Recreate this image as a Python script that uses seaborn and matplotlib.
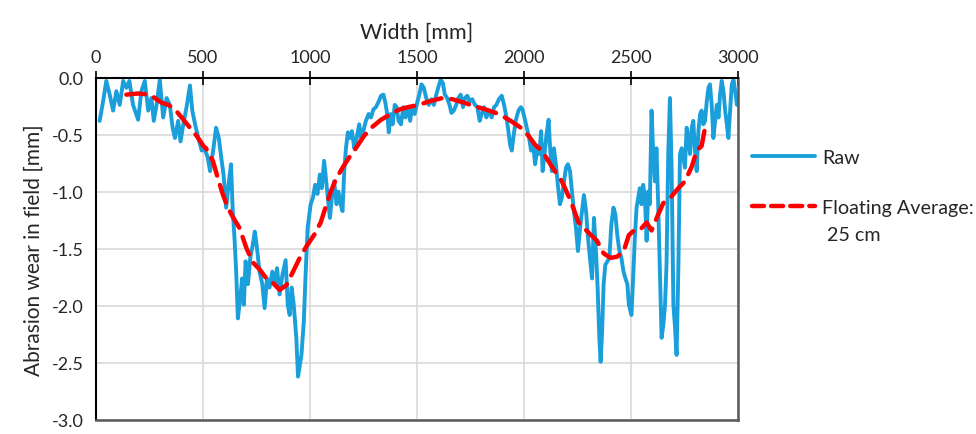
import numpy as np
import pandas as pd
import matplotlib
matplotlib.use("Agg")
import matplotlib.pyplot as plt
import seaborn as sns

# ---------------- data ----------------
raw_x = [17, 33, 48, 64, 80, 95, 111, 127, 142, 156, 173, 197, 212, 228, 244, 259, 270, 283, 298, 314,
         330, 345, 358, 369, 384, 395, 408, 423, 439, 450, 463, 478, 494,
         506, 522, 533, 549, 561, 574, 585, 596, 608, 621, 631, 639, 647, 655, 663, 674, 683, 691, 699,
         710, 721, 733, 742, 752, 764, 777, 788, 799, 811, 824, 836, 846, 858, 871, 886, 896, 905, 914,
         924, 936, 944, 960, 971, 980, 989, 999,
         1003, 1014, 1024, 1035, 1046, 1055, 1066, 1074, 1083, 1093, 1102, 1113, 1124, 1133, 1143, 1152,
         1160, 1168, 1177, 1186, 1196, 1207, 1218, 1230, 1239, 1249, 1261, 1274, 1285, 1296, 1308, 1321,
         1332, 1343, 1352, 1361, 1368, 1377, 1386, 1396, 1405, 1414, 1425, 1436, 1446, 1457, 1468, 1477, 1489,
         1502, 1511, 1521, 1532, 1543, 1555, 1568, 1579, 1590, 1602, 1611, 1621, 1630, 1641, 1652, 1661,
         1672, 1683, 1693, 1704, 1715, 1724, 1735, 1746, 1758, 1771, 1782, 1793, 1802, 1813, 1824, 1836,
         1849, 1860, 1871, 1883, 1896, 1907, 1918, 1927, 1935, 1943, 1950, 1961, 1974, 1985,
         1993, 2002, 2013, 2024, 2033, 2043, 2052, 2062, 2071, 2080, 2087, 2096, 2105, 2115, 2122, 2130,
         2140, 2149, 2158, 2168, 2177, 2187, 2196, 2205, 2215, 2224, 2233, 2243, 2252, 2262, 2271, 2280,
         2290, 2299, 2308, 2318, 2327, 2337, 2344, 2352, 2358, 2365, 2372, 2380, 2390, 2399, 2408, 2418,
         2427, 2437, 2446, 2455, 2465, 2474, 2483, 2490,
         2502, 2510, 2518, 2526, 2534, 2541, 2549, 2557, 2565, 2573, 2580, 2588, 2596, 2604, 2612, 2619,
         2627, 2635, 2643, 2651, 2659, 2666, 2674, 2682, 2690, 2698, 2705, 2713, 2721, 2729, 2737, 2744,
         2752, 2760, 2768, 2776, 2784, 2791, 2799, 2807, 2815, 2823, 2830, 2838, 2846, 2854, 2862, 2869,
         2877, 2885, 2893, 2901, 2909, 2916, 2924, 2932, 2940, 2948, 2955, 2963, 2971, 2979, 2987, 2995, 3000]
raw_y = [-0.38, -0.21, -0.03, -0.15, -0.29, -0.12, -0.24, -0.03, -0.09, -0.03, -0.24, -0.37, -0.12, -0.03,
         -0.29, -0.18, -0.38, -0.24, -0.02, -0.35,
         -0.18, -0.24, -0.44, -0.53, -0.38, -0.56, -0.41, -0.26, -0.07, -0.29, -0.41, -0.53, -0.64,
         -0.62, -0.70, -0.82, -0.62, -0.44, -0.53, -0.70, -0.85, -1.14, -0.91, -0.76, -1.17, -1.40, -1.70,
         -2.11, -1.93, -1.76, -1.99, -1.61,
         -1.81, -1.58, -1.46, -1.35, -1.49, -1.70, -1.81, -2.02, -1.76, -1.84, -1.70, -1.81, -1.67, -1.90,
         -1.73, -1.60, -1.99, -2.08, -1.84,
         -1.99, -2.28, -2.62, -2.43, -2.14, -1.70, -1.32, -1.17,
         -1.11, -1.05, -0.94, -1.02, -0.85, -0.97, -0.73, -0.88, -1.05, -1.23, -1.05, -0.91, -1.11, -1.00,
         -1.11, -1.17,
         -0.82, -0.62, -0.48, -0.53, -0.47, -0.62, -0.53, -0.41, -0.53, -0.47, -0.38, -0.32, -0.35, -0.28,
         -0.26, -0.21,
         -0.16, -0.15, -0.22, -0.32, -0.48, -0.32, -0.41, -0.24, -0.26, -0.38, -0.41, -0.26, -0.35, -0.26,
         -0.38, -0.26, -0.32,
         -0.21, -0.15, -0.06, -0.09, -0.18, -0.24, -0.19, -0.24, -0.15, -0.07, -0.02, -0.05, -0.15, -0.18,
         -0.24, -0.31,
         -0.29, -0.24, -0.18, -0.15, -0.26, -0.18, -0.16, -0.21, -0.19, -0.24, -0.26, -0.38, -0.32, -0.26,
         -0.35, -0.29,
         -0.35, -0.26, -0.24, -0.19, -0.16, -0.24, -0.35, -0.47, -0.59, -0.64, -0.53, -0.38, -0.29, -0.26,
         -0.28, -0.35, -0.44, -0.53, -0.64, -0.59, -0.76, -0.62, -0.67, -0.47, -0.82, -0.67, -0.50, -0.37,
         -0.62, -0.82,
         -0.62, -0.76, -0.94, -1.11, -1.05, -0.91, -0.79, -0.76, -0.82, -1.00, -1.17, -1.32, -1.52, -1.32,
         -1.17, -1.03,
         -1.17, -1.40, -1.58, -1.76, -1.23, -1.55, -1.84, -2.28, -2.49, -2.22, -1.81, -1.64, -1.61, -1.58,
         -1.29, -1.14,
         -1.20, -1.40, -1.52, -1.58, -1.70, -1.76, -1.81, -1.99,
         -2.08, -1.76, -1.40, -1.14, -1.05, -0.97, -1.11, -0.94, -1.05, -1.43, -1.00, -1.11, -0.29, -0.67,
         -0.91, -0.62,
         -1.11, -1.70, -2.28, -2.17, -1.99, -1.64, -0.67, -0.18, -0.82, -1.99, -2.17, -2.43, -1.70, -0.67,
         -0.62, -0.70,
         -0.79, -0.44, -0.53, -0.67, -0.44, -0.38, -0.64, -0.82, -0.47, -0.32, -0.29, -0.41, -0.38, -0.21,
         -0.09, -0.06,
         -0.24, -0.53, -0.38, -0.24, -0.35, -0.15, -0.03, -0.12, -0.29, -0.41, -0.53, -0.29, -0.06, -0.02,
         -0.12, -0.24, -0.18]

avg_x = [142, 197, 252, 275, 306, 338, 369, 400, 439, 470, 502,
         514, 546, 569, 592, 616, 639, 671, 702, 733, 764, 796, 827, 858, 889, 921, 952, 983,
         1019, 1050, 1074, 1097, 1121, 1152, 1183, 1214, 1253, 1293, 1332, 1378, 1418, 1457,
         1508, 1555, 1618, 1665, 1719, 1766, 1821, 1883, 1938, 1985,
         2021, 2052, 2083, 2130, 2177, 2216, 2255, 2302, 2341, 2372, 2404, 2435, 2466, 2490,
         2526, 2549, 2573, 2596, 2627, 2651, 2690, 2721, 2752, 2784, 2807, 2830, 2846]
avg_y = [-0.15, -0.14, -0.15, -0.18, -0.22, -0.24, -0.28, -0.35, -0.44, -0.51, -0.60,
         -0.62, -0.73, -0.88, -1.02, -1.14, -1.22, -1.32, -1.49, -1.62, -1.68, -1.76, -1.80, -1.86,
         -1.82, -1.70, -1.58, -1.48,
         -1.38, -1.27, -1.13, -1.00, -0.89, -0.79, -0.70, -0.62, -0.51, -0.43, -0.37, -0.32, -0.28, -0.26,
         -0.24, -0.21, -0.18, -0.19, -0.22, -0.25, -0.28, -0.32, -0.38, -0.44,
         -0.51, -0.59, -0.64, -0.78, -0.91, -1.07, -1.27, -1.36, -1.43, -1.54, -1.58, -1.57, -1.52, -1.38,
         -1.32, -1.32, -1.27, -1.34, -1.20, -1.10, -1.04, -0.97, -0.91, -0.78, -0.64, -0.60, -0.44]

x_ticks = [0, 500, 1000, 1500, 2000, 2500, 3000]
y_ticks = [0.0, -0.5, -1.0, -1.5, -2.0, -2.5, -3.0]
legend_labels = ["Raw", "Floating Average:"]
legend_cont = " 25 cm"

raw_df = pd.DataFrame({"Width": raw_x, "Wear": raw_y})
avg_df = pd.DataFrame({"Width": avg_x, "Wear": avg_y})

# ---------------- style ----------------
sns.set_theme(style="white")
plt.rcParams["font.family"] = ["Lato", "DejaVu Sans"]
plt.rcParams["axes.unicode_minus"] = False

fig = plt.figure(figsize=(9.76, 4.35), dpi=100)
ax = fig.add_axes([96 / 976, 1 - 421 / 435, (738 - 96) / 976, (421 - 78.5) / 435])

sns.lineplot(data=raw_df, x="Width", y="Wear", ax=ax, color="#1A9FDB", linewidth=2.8,
             label=legend_labels[0], sort=False, estimator=None)
sns.lineplot(data=avg_df, x="Width", y="Wear", ax=ax, color="#FF0000", linewidth=3.2,
             label=legend_labels[1], sort=False, estimator=None)
ax.lines[1].set_dashes((4.2, 2.2))
ax.lines[1].set_dash_capstyle("round")

ax.set_xlim(0, 3000)
ax.set_ylim(-3.0, 0.0)
ax.set_xticks(x_ticks)
ax.set_yticks(y_ticks)
ax.set_yticklabels([f"{v:.1f}" for v in y_ticks])
ax.xaxis.tick_top()
ax.xaxis.set_label_position("top")
ax.set_xlabel("Width [mm]", fontsize=15.5, labelpad=8)
ax.set_ylabel("Abrasion wear in field [mm]", fontsize=15, labelpad=6)
ax.tick_params(axis="both", labelsize=13, direction="inout", length=10, width=1.2, color="black")
ax.tick_params(axis="x", pad=4)
ax.tick_params(axis="y", pad=4)

ax.grid(True, color="#D9D9D9", linewidth=1.2)
ax.set_axisbelow(True)
for side in ["top", "left"]:
    ax.spines[side].set_color("black")
    ax.spines[side].set_linewidth(1.5)
for side in ["bottom", "right"]:
    ax.spines[side].set_color("#595959")
    ax.spines[side].set_linewidth(1.8)
for s in ax.spines.values():
    s.set_zorder(5)

leg = ax.legend(loc="upper left", bbox_to_anchor=(752 / 976, 1 - 150 / 435),
                bbox_transform=fig.transFigure, frameon=False, fontsize=14.2,
                handlelength=3.2, handletextpad=0.35, labelspacing=1.65,
                borderpad=0, borderaxespad=0)
leg.get_lines()[1].set_dashes((2.7, 1.6))

# continuation line of the second legend label
fig.canvas.draw()
bb = leg.get_texts()[1].get_window_extent()
fig.text(bb.x0 / 976, (bb.y0 + bb.y1) / 2 / 435 - 27 / 435, legend_cont,
         fontsize=14.2, va="center", ha="left")

fig.savefig("out.png", dpi=100)
